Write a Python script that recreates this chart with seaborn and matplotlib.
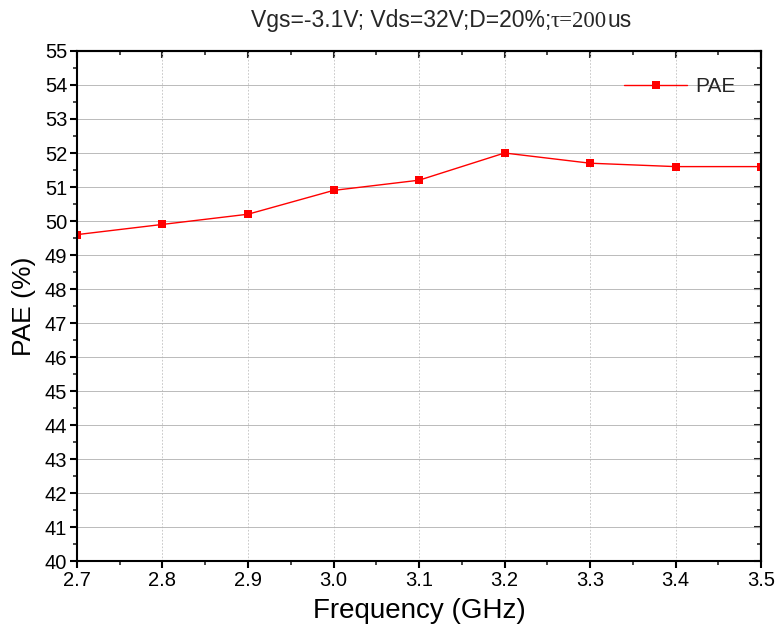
import matplotlib
matplotlib.use("Agg")
import matplotlib.pyplot as plt
import seaborn as sns
import pandas as pd
from matplotlib.ticker import MultipleLocator

freq = [2.7, 2.8, 2.9, 3.0, 3.1, 3.2, 3.3, 3.4, 3.5]
pae = [49.6, 49.9, 50.2, 50.9, 51.2, 52.0, 51.7, 51.6, 51.6]
df = pd.DataFrame({"Frequency": freq, "PAE": pae})

sns.set_theme(style="white")
plt.rcParams['font.family'] = ['Liberation Sans', 'DejaVu Sans']

fig = plt.figure(figsize=(7.79, 6.42), dpi=100)
ax = fig.add_axes([0.0988, 0.126, 0.8782, 0.7946])

sns.lineplot(data=df, x="Frequency", y="PAE", ax=ax, color="red", linewidth=1,
             marker="s", markersize=6, markeredgewidth=0, label="PAE")

ax.set_xlim(2.7, 3.5)
ax.set_ylim(40, 55)
ax.xaxis.set_major_locator(MultipleLocator(0.1))
ax.xaxis.set_minor_locator(MultipleLocator(0.05))
ax.yaxis.set_major_locator(MultipleLocator(1))
ax.yaxis.set_minor_locator(MultipleLocator(0.5))
ax.xaxis.set_major_formatter(matplotlib.ticker.FormatStrFormatter('%.1f'))

ax.grid(True, which='major', axis='y', color='#b0b0b0', linestyle='-', linewidth=0.6)
ax.grid(True, which='major', axis='x', color='#c0c0c0', linestyle=(0, (2, 2)), linewidth=0.6)

for s in ax.spines.values():
    s.set_color('black')
    s.set_linewidth(1.5)

ax.tick_params(axis='both', which='major', direction='out', length=5, width=1.5,
               labelsize=14.5, colors='black', left=True, bottom=True, pad=2)
ax.tick_params(axis='both', which='minor', direction='out', length=3, width=1.2,
               left=True, bottom=True)
# mirrored inward ticks on top/right
ax2 = ax.secondary_yaxis('right')
ax2.yaxis.set_major_locator(MultipleLocator(1))
ax2.yaxis.set_minor_locator(MultipleLocator(0.5))
ax2.tick_params(which='major', direction='in', length=5, width=1.5, labelright=False)
ax2.tick_params(which='minor', direction='in', length=3, width=1.2)
ax3 = ax.secondary_xaxis('top')
ax3.xaxis.set_major_locator(MultipleLocator(0.1))
ax3.xaxis.set_minor_locator(MultipleLocator(0.05))
ax3.tick_params(which='major', direction='in', length=5, width=1.5, labeltop=False)
ax3.tick_params(which='minor', direction='in', length=3, width=1.2)
for a in (ax2, ax3):
    for s in a.spines.values():
        s.set_linewidth(1.5)

ax.set_xlabel("Frequency (GHz)", fontsize=20, color='black', labelpad=6)
ax.set_ylabel("PAE (%)", fontsize=19, color='black', labelpad=6)

leg = ax.legend(loc='upper right', frameon=False, fontsize=15, handlelength=3.0,
                handletextpad=0.4, bbox_to_anchor=(0.99, 0.985))

# Title with mixed fonts
t1 = fig.text(0.5, 0.958, "Vgs=-3.1V; Vds=32V;D=20%;", fontsize=16.5, ha='right', va='baseline',
              family=['Liberation Sans'])
t2 = ax.annotate("τ=200", xy=(1, 0), xycoords=t1, fontsize=16.5, va='bottom', ha='left',
                 family=['Liberation Serif', 'DejaVu Serif'], annotation_clip=False)
t3 = ax.annotate("us", xy=(1, 0), xycoords=t2, fontsize=16.5, va='bottom', ha='left',
                 family=['Liberation Sans'], annotation_clip=False)
fig.canvas.draw()
r = fig.canvas.get_renderer()
b1 = t1.get_window_extent(r); b3 = t3.get_window_extent(r)
total = b3.x1 - b1.x0
center_px = 441
x_right1 = center_px - total / 2 + b1.width
t1.set_x(x_right1 / fig.bbox.width)

fig.savefig("out.png", dpi=100)
